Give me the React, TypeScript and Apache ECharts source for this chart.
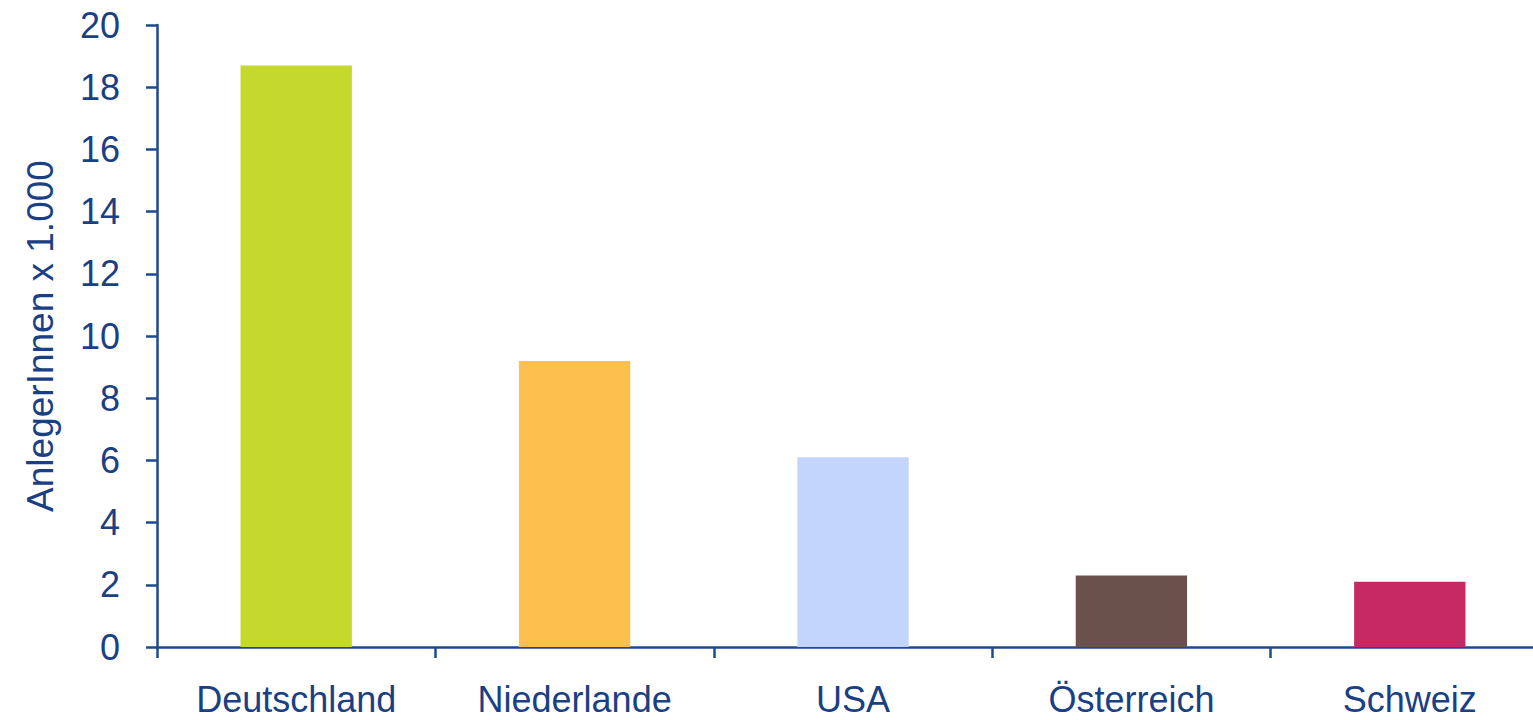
import React, { useEffect, useRef } from "react";
import * as echarts from "echarts";

const categories = ["Deutschland", "Niederlande", "USA", "Österreich", "Schweiz"];
const values = [18.7, 9.2, 6.1, 2.3, 2.1];
const barColors = ["#C5D82E", "#FDC04E", "#C3D5FB", "#6B514C", "#C72A62"];
const yAxisName = "AnlegerInnen x 1.000";

const AXIS = "#1E4A8C";
const TEXT = "#1A3F84";
const FONT = "'Liberation Sans', Arial, sans-serif";

export default function App() {
  const ref = useRef<HTMLDivElement>(null);
  useEffect(() => {
    if (!ref.current) return;
    const chart = echarts.init(ref.current, undefined, { renderer: "svg" });
    chart.setOption({
      animation: false,
      backgroundColor: "#ffffff",
      grid: { left: 157, right: 0, top: 25, bottom: 73 },
      xAxis: {
        type: "category",
        data: categories,
        boundaryGap: true,
        axisLine: { show: true, lineStyle: { color: AXIS, width: 2.5 } },
        axisTick: { show: true, alignWithLabel: false, length: 11, lineStyle: { color: AXIS, width: 2.5 } },
        axisLabel: { color: TEXT, fontSize: 36, fontFamily: FONT, margin: 34 },
        splitLine: { show: false },
      },
      yAxis: {
        type: "value",
        min: 0,
        max: 20,
        interval: 2,
        name: yAxisName,
        nameLocation: "middle",
        nameGap: 98,
        nameRotate: 90,
        nameTextStyle: { color: TEXT, fontSize: 37, fontFamily: FONT },
        axisLine: { show: true, lineStyle: { color: AXIS, width: 2.5 } },
        axisTick: { show: true, length: 11, lineStyle: { color: AXIS, width: 2.5 } },
        axisLabel: { color: TEXT, fontSize: 36, fontFamily: FONT, margin: 37 },
        splitLine: { show: false },
      },
      series: [
        {
          type: "bar",
          barWidth: "40%",
          data: values.map((v, i) => ({ value: v, itemStyle: { color: barColors[i] } })),
        },
      ],
    });
    return () => chart.dispose();
  }, []);
  return (
    <div
      style={{
        position: "absolute",
        left: 0,
        top: 0,
        width: 1533,
        height: 720,
        overflow: "hidden",
        background: "#ffffff",
      }}
    >
      <div ref={ref} style={{ width: 1549, height: 720 }} />
    </div>
  );
}
